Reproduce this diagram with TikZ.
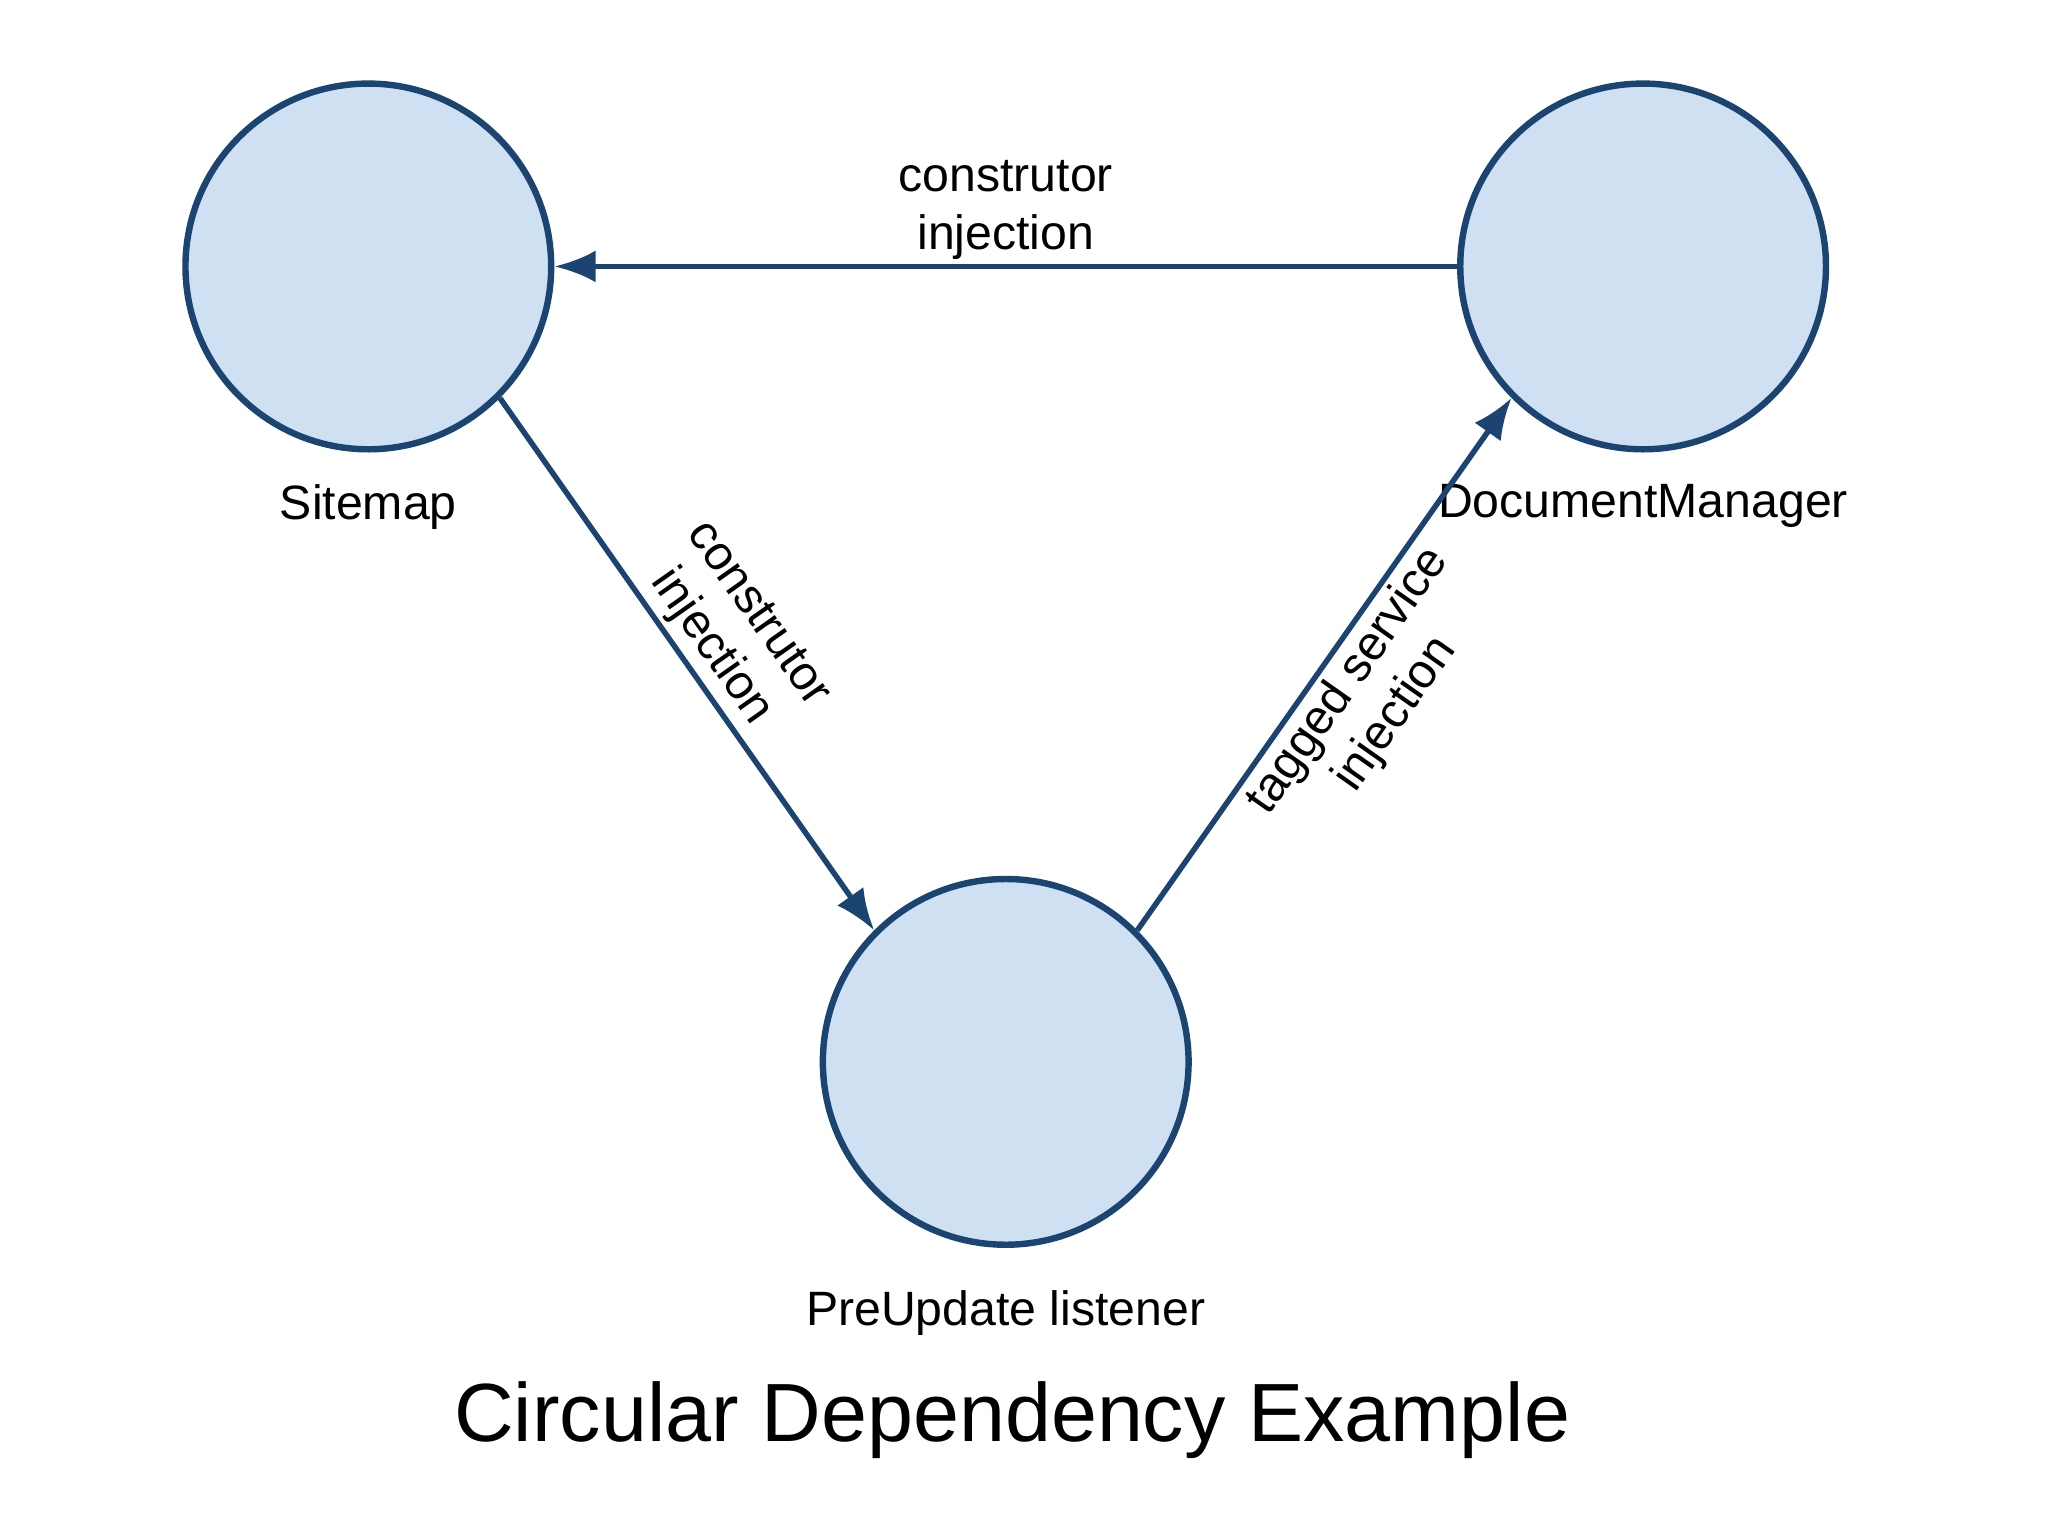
\documentclass[tikz,border=0pt]{standalone}
\usepackage{fontspec}
\setmainfont{Liberation Sans}
\usetikzlibrary{arrows.meta,positioning}
\definecolor{bubble}{HTML}{CFE0F3}
\definecolor{rim}{HTML}{1B4470}
\tikzstyle{service}=[draw=rim,fill=bubble,circle,line width=1.4pt,minimum size=2.8cm,inner sep=0pt]
\tikzstyle{inject}=[draw=rim,line width=1.2pt,-{Latex[length=9pt,width=7pt]}]
\tikzstyle{lbl}=[font={\fontsize{10.5pt}{12.5}\selectfont},align=center]
\begin{document}
\begin{tikzpicture}
        \useasboundingbox (0,0) rectangle (15.68,-11.76);
        \node[service] (sitemap) at (2.82,-2.04) {};
        \node[service] (docman) at (12.58,-2.04) {};
        \node[service] (listener) at (7.70,-8.13) {};
        %
        \node[lbl, below=0.12cm of sitemap] (sitemap-l) {Sitemap};
        \node[lbl, below=0.12cm of docman] (docman-l) {DocumentManager};
        \node[lbl, below=0.2cm of listener] (listener-l) {PreUpdate listener};
        \node[font={\fontsize{18pt}{21}\selectfont}] (title) at (7.75,-10.87) {Circular Dependency Example};

        \draw[inject] (docman) -- node[lbl, above, inner sep=1pt] {construtor\\injection} (sitemap);
        \draw[inject] (sitemap.-45) -- node[lbl, sloped, above, inner sep=1pt, pos=0.5] {construtor\\injection} (listener.135);
        \draw[inject] (listener.45) -- node[lbl, sloped, below, inner sep=1pt, pos=0.5] {tagged service\\injection} (docman.-135);
    \end{tikzpicture}
\end{document}
